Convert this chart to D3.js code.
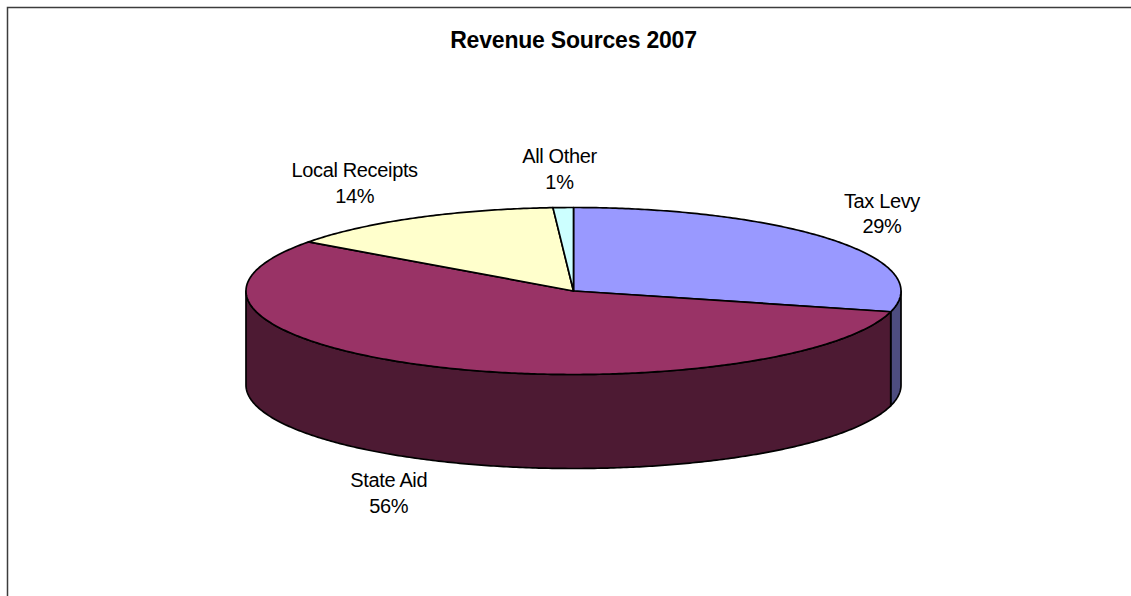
<!DOCTYPE html>
<html>
<head>
<meta charset="utf-8">
<script src="https://cdn.jsdelivr.net/npm/d3@7"></script>
<style>
  html, body { margin: 0; padding: 0; background: #ffffff; }
  svg { display: block; }
</style>
</head>
<body>
<svg id="chart" width="1131" height="596"></svg>
<script>
// Revenue sources for 2007, drawn as a tilted 3-D pie
const title = "Revenue Sources 2007";
const categories = ["Tax Levy", "State Aid", "Local Receipts", "All Other"];
const shares = [29, 56, 14, 1];
const sliceColors = ["#9999FF", "#993366", "#FFFFCC", "#CCFFFF"];

const width = 1131, height = 596;
const cx = 573.5, cy = 291;      // centre of the top face
const rx = 327.5, ry = 83.5;     // ellipse radii of the top face
const depth = 94;                // thickness of the disc
const fontFamily = "'Liberation Sans', Arial, sans-serif";

const svg = d3.select("#chart");

// chart-area frame
svg.append("rect")
  .attr("x", 7.5).attr("y", 7.5)
  .attr("width", width + 50).attr("height", height + 50)
  .attr("fill", "#ffffff")
  .attr("stroke", "#3c3c3c")
  .attr("stroke-width", 1.5);

svg.append("text")
  .attr("x", cx).attr("y", 48)
  .attr("text-anchor", "middle")
  .attr("font-family", fontFamily)
  .attr("font-weight", "bold")
  .attr("font-size", "23px")
  .attr("letter-spacing", "-0.2px")
  .text(title);

// pie layout: angles run clockwise from 12 o'clock
const arcs = d3.pie().sort(null).value(d => d)(shares)
  .map((a, i) => ({ ...a, name: categories[i], color: sliceColors[i] }));

// project an angle on the disc rim onto the page (dz = drop below the top face)
function rim(a, dz = 0) {
  return [cx + rx * Math.sin(a), cy - ry * Math.cos(a) + dz];
}
function arcPoints(a0, a1, dz) {
  const n = Math.max(2, Math.ceil(Math.abs(a1 - a0) / 0.01));
  return d3.range(n + 1).map(k => rim(a0 + (a1 - a0) * k / n, dz));
}
function shade(c, f) {
  const r = d3.rgb(c);
  return d3.rgb(r.r * f, r.g * f, r.b * f).formatHex();
}
const line = d3.line();

// front walls (only the part of the rim between 3 and 9 o'clock faces the viewer)
const frontLo = Math.PI / 2, frontHi = 3 * Math.PI / 2;
const walls = svg.append("g");
arcs.forEach(d => {
  const lo = Math.max(d.startAngle, frontLo);
  const hi = Math.min(d.endAngle, frontHi);
  if (hi <= lo) return;
  const pts = arcPoints(lo, hi, 0).concat(arcPoints(hi, lo, depth));
  walls.append("path")
    .attr("d", line(pts) + "Z")
    .attr("fill", shade(d.color, 0.5))
    .attr("stroke", "#000")
    .attr("stroke-width", 1.7)
    .attr("stroke-linejoin", "round");
});

// top faces
const tops = svg.append("g");
arcs.forEach(d => {
  const pts = [[cx, cy]].concat(arcPoints(d.startAngle, d.endAngle, 0));
  tops.append("path")
    .attr("d", line(pts) + "Z")
    .attr("fill", d.color)
    .attr("stroke", "#000")
    .attr("stroke-width", 1.7)
    .attr("stroke-linejoin", "round");
});

// category / percentage labels placed just outside the rim at each slice's mid-angle
const labels = svg.append("g")
  .attr("font-family", fontFamily)
  .attr("font-size", "20px")
  .attr("letter-spacing", "-0.35px")
  .attr("fill", "#000");
const lineGap = 25.5;
arcs.forEach(d => {
  const mid = (d.startAngle + d.endAngle) / 2;
  const s = Math.sin(mid), c = Math.cos(mid);
  const t = labels.append("text").attr("text-anchor", "middle");
  const t1 = t.append("tspan").text(d.name);
  const t2 = t.append("tspan").text(d3.format(".0f")(d.value) + "%");
  const boxW = Math.max(t1.node().getComputedTextLength(), t2.node().getComputedTextLength());
  // horizontal reach grows toward the front/back of the disc
  const reachX = rx * (0.8 + 0.45 * Math.abs(c)) + boxW / 2;
  const reachY = c < 0 ? 127 : 115;
  const lx = cx + s * reachX;
  const ly = cy - c * reachY + (c < 0 ? depth : 0);
  t1.attr("x", lx).attr("y", ly - lineGap / 2);
  t2.attr("x", lx).attr("y", ly + lineGap / 2);
});
</script>
</body>
</html>
